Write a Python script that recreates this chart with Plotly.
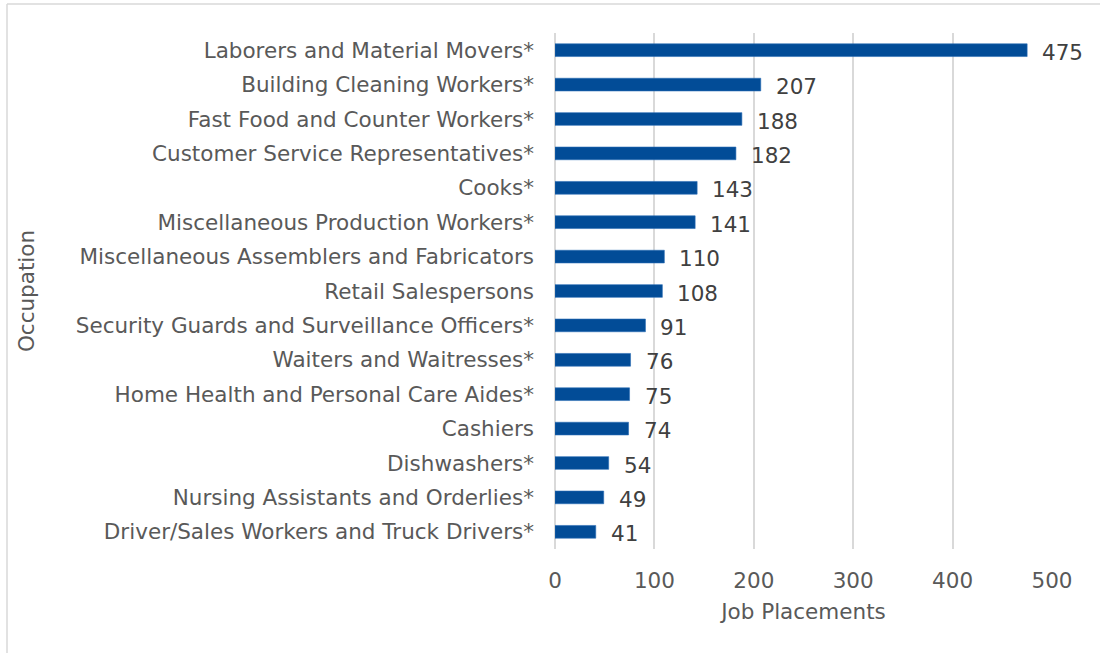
import plotly.graph_objects as go

occupations = [
    "Laborers and Material Movers*",
    "Building Cleaning Workers*",
    "Fast Food and Counter Workers*",
    "Customer Service Representatives*",
    "Cooks*",
    "Miscellaneous Production Workers*",
    "Miscellaneous Assemblers and Fabricators",
    "Retail Salespersons",
    "Security Guards and Surveillance Officers*",
    "Waiters and Waitresses*",
    "Home Health and Personal Care Aides*",
    "Cashiers",
    "Dishwashers*",
    "Nursing Assistants and Orderlies*",
    "Driver/Sales Workers and Truck Drivers*",
]
placements = [475, 207, 188, 182, 143, 141, 110, 108, 91, 76, 75, 74, 54, 49, 41]
x_ticks = [0, 100, 200, 300, 400, 500]

FONT = "DejaVu Sans"
FS = 21.5
BAR = "#024C97"
GRID = "#D9D9D9"

fig = go.Figure(
    go.Bar(
        x=placements,
        y=occupations,
        orientation="h",
        width=0.37,
        marker=dict(color=BAR, line=dict(color="#2A6BB5", width=0.6)),
        hoverinfo="x+y",
    )
)

# value labels sit a little to the right of each bar end
for occ, val in zip(occupations, placements):
    fig.add_annotation(
        x=val, y=occ, text=str(val), showarrow=False,
        xanchor="left", yanchor="middle", xshift=13, yshift=-2,
        font=dict(family=FONT, size=FS, color="#404040"),
    )

# light frame along the top and left of the chart area
fig.add_shape(type="line", xref="paper", yref="paper",
              x0=-1.1026, x1=1.3, y0=1.0562, y1=1.0562,
              line=dict(color=GRID, width=1.5))
fig.add_shape(type="line", xref="paper", yref="paper",
              x0=-1.1026, x1=-1.1026, y0=1.0562, y1=-0.4,
              line=dict(color=GRID, width=1.5))

fig.update_layout(
    width=1100, height=653,
    margin=dict(l=555, r=48, t=33, b=104),
    paper_bgcolor="white", plot_bgcolor="white",
    showlegend=False,
    font=dict(family=FONT, size=FS, color="#595959"),
    xaxis=dict(
        range=[0, 500], tickvals=x_ticks, ticks="", showline=False,
        showgrid=True, gridcolor=GRID, gridwidth=1.5,
        zeroline=True, zerolinecolor=GRID, zerolinewidth=1.5,
        ticklabelstandoff=16,
        tickfont=dict(family=FONT, size=FS, color="#595959"),
        title=dict(text="Job Placements", standoff=12,
                   font=dict(family=FONT, size=FS, color="#595959")),
    ),
    yaxis=dict(
        autorange="reversed", categoryorder="array", categoryarray=occupations,
        ticks="", showline=False, showgrid=False, ticklabelstandoff=20,
        tickfont=dict(family=FONT, size=FS, color="#595959"),
        title=dict(text="Occupation", standoff=35,
                   font=dict(family=FONT, size=FS, color="#595959")),
    ),
)

fig.write_html("out.html")
